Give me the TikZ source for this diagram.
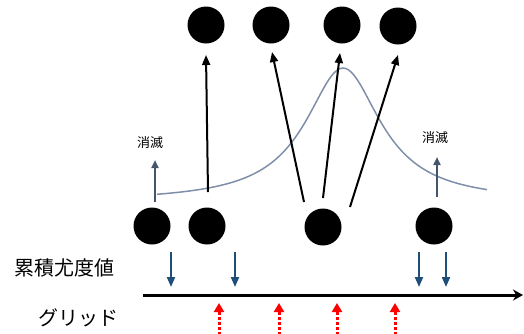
\documentclass[tikz,border=0pt]{standalone}
\usepackage{fontspec}
\newfontfamily\jpfont{Noto Sans CJK JP}
\usetikzlibrary{arrows.meta}
\definecolor{curveblue}{HTML}{7F8FA9}
\definecolor{fadeblue}{HTML}{44546A}
\definecolor{likeblue}{HTML}{1F4E79}

\begin{document}
\begin{tikzpicture}[x=1pt,y=-1pt,
  particle/.style={circle,fill=black,minimum size=37pt,inner sep=0pt},
  move/.style={line width=2pt,-{Triangle[width=8pt,length=10pt]}},
  fade/.style={fadeblue,line width=2pt,-{Triangle[width=7pt,length=8pt]}},
  weight/.style={likeblue,line width=2pt,-{Triangle[width=8pt,length=10pt]}},
  probe/.style={red,line width=3pt,dash pattern=on 3pt off 2pt,-{Triangle[width=10pt,length=9pt]}},
  axisline/.style={line width=3pt,-{Stealth[width=11pt,length=10pt]}},
  lbl/.style={font=\jpfont\fontsize{20pt}{20pt}\selectfont},
  smalllbl/.style={font=\jpfont\fontsize{13pt}{13pt}\selectfont}]
\useasboundingbox (0,0) rectangle (524,333);

% particles after resampling
\node[particle] (t1) at (206,25) {};
\node[particle] (t2) at (271,25) {};
\node[particle] (t3) at (342,25) {};
\node[particle] (t4) at (398,26) {};

% particles before resampling
\node[particle] (b1) at (152,226) {};
\node[particle] (b2) at (207,226) {};
\node[particle] (b3) at (323,227) {};
\node[particle] (b4) at (434,226) {};

% likelihood curve
\draw[curveblue,line width=1.5pt] plot[domain=157:487,samples=120,smooth]
  (\x,{202-134/(1+((\x-343)/46)^2)});

% arrow end points
\coordinate (s1) at ([shift={(1,-34)}]b2.center);
\coordinate (e1) at ([shift={(0,30)}]t1.center);
\coordinate (s2) at ([shift={(-19,-25)}]b3.center);
\coordinate (e2) at ([shift={(1,27)}]t2.center);
\coordinate (s3) at ([shift={(0,-29)}]b3.center);
\coordinate (e3) at ([shift={(-2,28)}]t3.center);
\coordinate (s4) at ([shift={(27,-20)}]b3.center);
\coordinate (e4) at ([shift={(0,29)}]t4.center);

\draw[move] (s1) -- (e1);
\draw[move] (s2) -- (e2);
\draw[move] (s3) -- (e3);
\draw[move] (s4) -- (e4);

% vanishing particles
\coordinate (f1s) at ([shift={(3,-24)}]b1.center);
\coordinate (f1e) at ([shift={(3,-66)}]b1.center);
\coordinate (f2s) at ([shift={(3,-29)}]b4.center);
\coordinate (f2e) at ([shift={(3,-69)}]b4.center);
\draw[fade] (f1s) -- (f1e);
\draw[fade] (f2s) -- (f2e);
\node[smalllbl] (v1) at (150,143) {消滅};
\node[smalllbl] (v2) at (435,138) {消滅};

% cumulative likelihood axis
\coordinate (ax0) at (143,295);
\coordinate (ax1) at (523,295);
\draw[axisline] (ax0) -- (ax1);

\foreach \i/\x in {1/171,2/235,3/419,4/446}{
  \coordinate (w\i s) at (\x,252);
  \coordinate (w\i e) at (\x,287);
  \draw[weight] (w\i s) -- (w\i e);
}

% grid points
\foreach \i/\x in {1/219,2/279,3/337,4/395}{
  \coordinate (g\i s) at (\x,345);
  \coordinate (g\i e) at (\x,303);
  \draw[probe] (g\i s) -- (g\i e);
}

\node[lbl] (cum) at (64,268) {累積尤度値};
\node[lbl] (grid) at (78,318) {グリッド};
\end{tikzpicture}
\end{document}
